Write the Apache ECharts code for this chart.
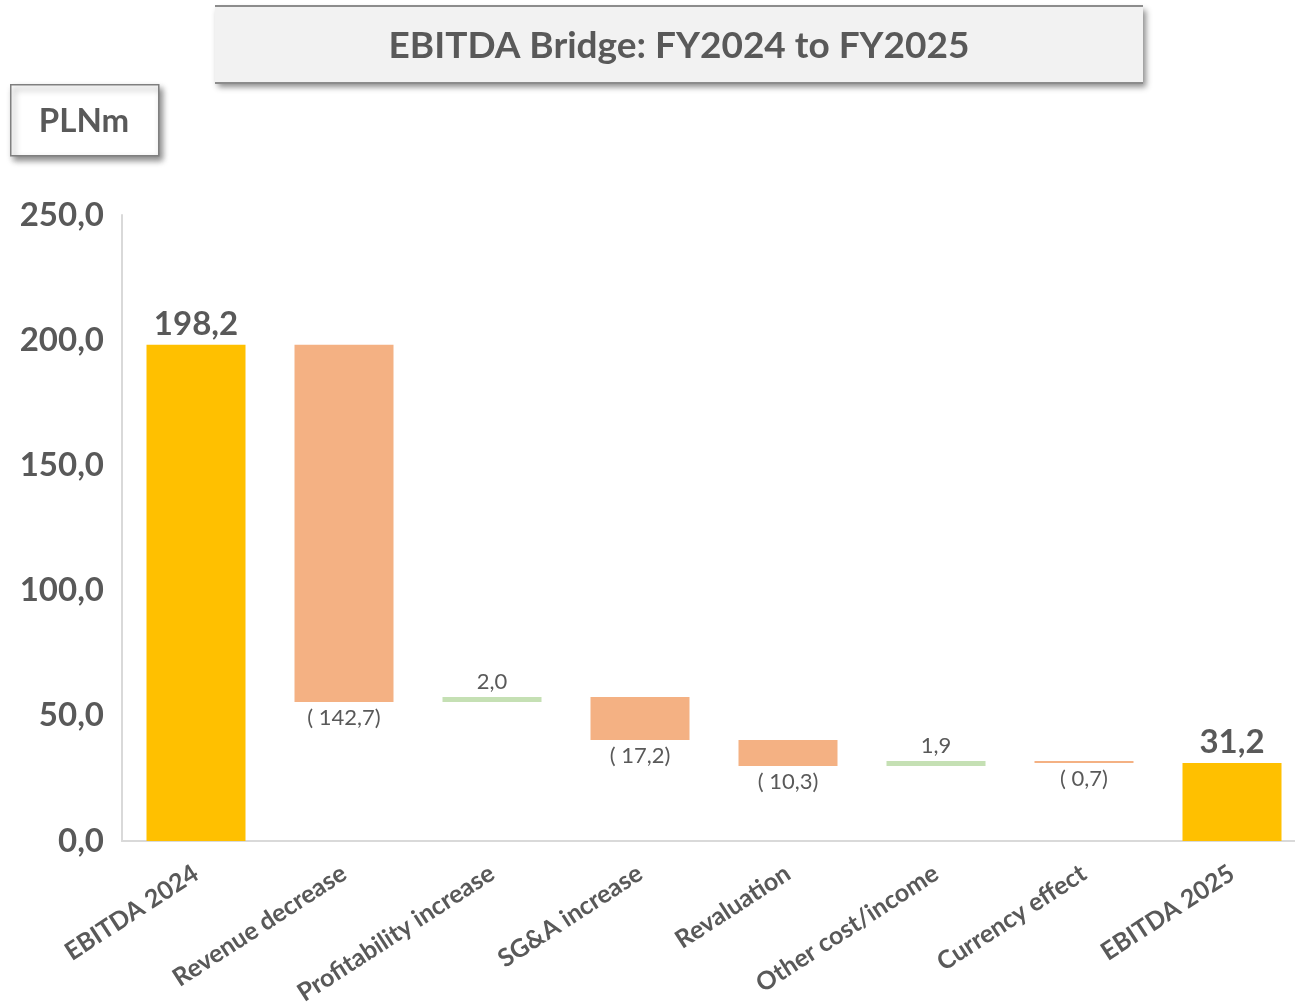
<!DOCTYPE html>
<html>
<head>
<meta charset="utf-8">
<script src="https://cdn.jsdelivr.net/npm/echarts@6/dist/echarts.min.js"></script>
<style>
  html, body { margin: 0; padding: 0; background: #fff; }
  #main { width: 1295px; height: 1002px; }
</style>
</head>
<body>
<div id="main"></div>
<script>
// data
var categories = ['EBITDA 2024', 'Revenue decrease', 'Profitability increase', 'SG&A increase',
    'Revaluation', 'Other cost/income', 'Currency effect', 'EBITDA 2025'];
var startTotal = 198.2;
var steps = [-142.7, 2.0, -17.2, -10.3, 1.9, -0.7];
var endTotal = 31.2;
var yTicks = [0, 50, 100, 150, 200, 250];

window.onload = () => {
    var chartDom = document.getElementById('main');
    var myChart = echarts.init(chartDom);
    var font = 'Lato, "Open Sans", sans-serif';
    var txt = '#595959';

    // waterfall: invisible base + visible part
    var base = ['-'], totals = [startTotal], ups = ['-'], downs = ['-'];
    var level = startTotal;
    steps.forEach(function (s) {
        var next = Math.round((level + s) * 10) / 10;
        base.push(Math.min(level, next));
        totals.push('-');
        if (s >= 0) { ups.push(s); downs.push('-'); }
        else { downs.push(-s); ups.push('-'); }
        level = next;
    });
    base.push('-'); totals.push(endTotal); ups.push('-'); downs.push('-');

    var fmt = function (v) { return Number(v).toFixed(1).replace('.', ','); };

    var option = {
        animation: false,
        textStyle: { fontFamily: font },
        graphic: [
            {
                type: 'rect', left: 215, top: 6, z: 10,
                shape: { width: 928, height: 77 },
                style: { fill: '#F2F2F2', shadowBlur: 6, shadowOffsetX: 3, shadowOffsetY: 4, shadowColor: 'rgba(0,0,0,0.45)' }
            },
            { type: 'line', z: 11, shape: { x1: 215, y1: 6, x2: 1143, y2: 6 }, style: { stroke: '#8C8C8C', lineWidth: 2 } },
            { type: 'line', z: 11, shape: { x1: 215, y1: 83, x2: 1143, y2: 83 }, style: { stroke: '#8C8C8C', lineWidth: 2 } },
            {
                type: 'text', x: 679, y: 46, z: 12,
                style: { text: 'EBITDA Bridge: FY2024 to FY2025', fill: txt, font: 'bold 37px ' + font, align: 'center', verticalAlign: 'middle' }
            },
            {
                type: 'rect', left: 10, top: 84, z: 10,
                shape: { width: 148, height: 71 },
                style: { fill: '#fff', stroke: '#7F7F7F', lineWidth: 1.5, shadowBlur: 6, shadowOffsetX: 3, shadowOffsetY: 4, shadowColor: 'rgba(0,0,0,0.45)' }
            },
            {
                type: 'text', x: 84, y: 121, z: 12,
                style: { text: 'PLNm', fill: txt, font: 'bold 33px ' + font, align: 'center', verticalAlign: 'middle' }
            }
        ],
        grid: { left: 122, top: 215, width: 1184, height: 626, outerBoundsMode: 'none' },
        xAxis: {
            type: 'category',
            data: categories,
            axisLine: { lineStyle: { color: '#D9D9D9', width: 2 } },
            axisTick: { show: false },
            axisLabel: { rotate: 33, color: txt, fontSize: 25, fontWeight: 'bold', fontFamily: font, margin: 30, interval: 0 }
        },
        yAxis: {
            type: 'value',
            min: yTicks[0], max: yTicks[yTicks.length - 1], interval: 50,
            axisLine: { show: true, lineStyle: { color: '#D9D9D9', width: 2 } },
            axisTick: { show: false },
            splitLine: { show: false },
            axisLabel: { color: txt, fontSize: 33, fontWeight: 'bold', fontFamily: font, margin: 18, formatter: fmt }
        },
        series: [
            {
                name: 'base', type: 'bar', stack: 'w', barWidth: 99, data: base,
                itemStyle: { color: 'transparent' }, silent: true
            },
            {
                name: 'total', type: 'bar', stack: 'w', barWidth: 99, data: totals,
                itemStyle: { color: '#FFC000' },
                label: { show: true, position: 'top', distance: 4, color: txt, fontSize: 33, fontWeight: 'bold', fontFamily: font, formatter: function (p) { return fmt(p.value); } }
            },
            {
                name: 'increase', type: 'bar', stack: 'w', barWidth: 99, data: ups,
                itemStyle: { color: '#C5E0B4' },
                label: { show: true, position: 'top', distance: 4, color: txt, fontSize: 22, fontFamily: font, formatter: function (p) { return fmt(p.value); } }
            },
            {
                name: 'decrease', type: 'bar', stack: 'w', barWidth: 99, data: downs,
                itemStyle: { color: '#F4B183' },
                label: { show: true, position: 'bottom', distance: 5, color: txt, fontSize: 22, fontFamily: font, formatter: function (p) { return '( ' + fmt(p.value) + ')'; } }
            }
        ]
    };
    option && myChart.setOption(option);
};
</script>
</body>
</html>
